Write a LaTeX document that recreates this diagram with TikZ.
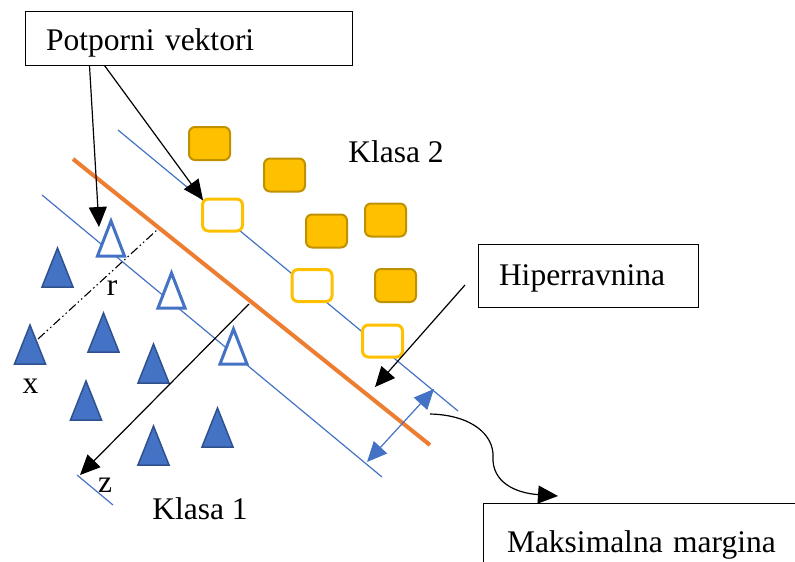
\documentclass[tikz,border=0pt]{standalone}
\usepackage{fontspec}
\setmainfont{Liberation Serif}
\usetikzlibrary{arrows.meta}
\definecolor{tblue}{HTML}{4472C4}
\definecolor{tblued}{HTML}{2F528F}
\definecolor{torange}{HTML}{ED7D31}
\definecolor{tgold}{HTML}{FFC000}
\definecolor{tgoldd}{HTML}{BF9000}
\begin{document}
\begin{tikzpicture}[x=1pt,y=-1pt,
 lbl/.style={font=\fontsize{31.5}{36}\selectfont, inner sep=0pt, anchor=base},
 callout/.style={draw=black, line width=1pt, font=\fontsize{31.5}{36}\selectfont, align=left, inner ysep=0pt},
 arr/.style={line width=1.2pt, -{Triangle[length=20pt,width=18pt]}},
 barr/.style={tblue, line width=1.2pt, {Triangle[length=20pt,width=18pt]}-{Triangle[length=20pt,width=18pt]}},
 marginline/.style={tblue, line width=1.2pt},
 trifill/.pic={\draw[fill=tblue, draw=tblued, line width=1.5pt] (-15.5,0) -- (0,-39) -- (15.5,0) -- cycle;},
 trihollow/.pic={\draw[fill=white, draw=tblue, line width=3pt] (-13.5,-1) -- (0,-36) -- (13.5,-1) -- cycle;},
 sqfill/.style={draw=tgoldd, fill=tgold, line width=2pt, rounded corners=6pt, minimum width=41pt, minimum height=33pt, inner sep=0pt},
 sqhollow/.style={draw=tgold, fill=white, line width=3pt, rounded corners=6pt, minimum width=40pt, minimum height=32pt, inner sep=0pt},
]
\useasboundingbox (0,0) rectangle (795,562);
\clip (0,0) rectangle (795,562);

% margin lines and hyperplane
\coordinate (u1) at (118,130); \coordinate (u2) at (458,411);
\coordinate (l1) at (42,195);  \coordinate (l2) at (382,477);
\coordinate (h1) at (73,159);  \coordinate (h2) at (430,445);
\coordinate (zs1) at (77,475); \coordinate (zs2) at (113,505);
\draw[marginline] (u1) -- (u2);
\draw[marginline] (l1) -- (l2);
\draw[marginline] (zs1) -- (zs2);
\draw[torange, line width=4pt] (h1) -- (h2);

% class 2 squares
\node[sqfill] (s1) at (209.5,143.5) {};
\node[sqfill] (s2) at (284.5,175) {};
\node[sqfill] (s3) at (326.5,231) {};
\node[sqfill] (s4) at (385.5,220) {};
\node[sqfill] (s5) at (395.5,285.5) {};
\node[sqhollow] (v1) at (222.5,215) {};
\node[sqhollow] (v2) at (312,285.5) {};
\node[sqhollow] (v3) at (382.5,341) {};

% class 1 triangles
\pic at (57.5,287) {trifill};
\pic at (103.5,352) {trifill};
\pic at (30,364) {trifill};
\pic at (153.5,383) {trifill};
\pic at (86,420) {trifill};
\pic at (153.5,465) {trifill};
\pic at (217.5,447) {trifill};
\pic at (111,257) {trihollow};
\pic at (171.5,309) {trihollow};
\pic at (233.5,365) {trihollow};

% dash-dot distance r
\coordinate (d1) at (38,339); \coordinate (d2) at (157,230);
\draw[line width=1.1pt, dash pattern=on 9pt off 3pt on 1.5pt off 3pt on 1.5pt off 3pt] (d1) -- (d2);

% labels
\node[lbl] (k2) at (396,162) {Klasa 2};
\node[lbl] (k1) at (200,519) {Klasa 1};
\node[lbl] (lx) at (30.5,393) {x};
\node[lbl] (lz) at (105,492) {z};
\node[lbl] (lr) at (112,295) {r};

% callout boxes
\node[callout, minimum height=54pt, text width=285pt, inner xsep=21pt, text height=30pt, text depth=6pt] (pv) at (188.5,38) {Potporni vektori};
\node[callout, minimum height=63pt, text width=178pt, inner xsep=21pt, text height=26pt, text depth=7pt] (hp) at (588,275.5) {Hiperravnina};
\node[callout, minimum height=64pt, text width=272pt, inner xsep=24pt, text height=38pt, text depth=4pt] (mm) at (643,535) {Maksimalna margina};

% arrows
\coordinate (t1) at (99,227);
\coordinate (t2) at (203,200);
\draw[arr] ([xshift=65pt]pv.south west) -- (t1);
\draw[arr] ([xshift=80pt]pv.south west) -- (t2);
\coordinate (hs) at (465,285); \coordinate (ht) at (375,387);
\draw[arr] (hs) -- (ht);
\coordinate (zs) at (249,304); \coordinate (zt) at (80,475);
\draw[arr] (zs) -- (zt);
\coordinate (b1) at (367,462); \coordinate (b2) at (434,389);
\draw[barr] (b1) -- (b2);
\coordinate (cs) at (430,414); \coordinate (cm) at (493,457); \coordinate (ct) at (558,496);
\draw[arr] (cs) .. controls (472,415) and (494,435) .. (cm) .. controls (492,482) and (515,493) .. (ct);
\end{tikzpicture}
\end{document}
